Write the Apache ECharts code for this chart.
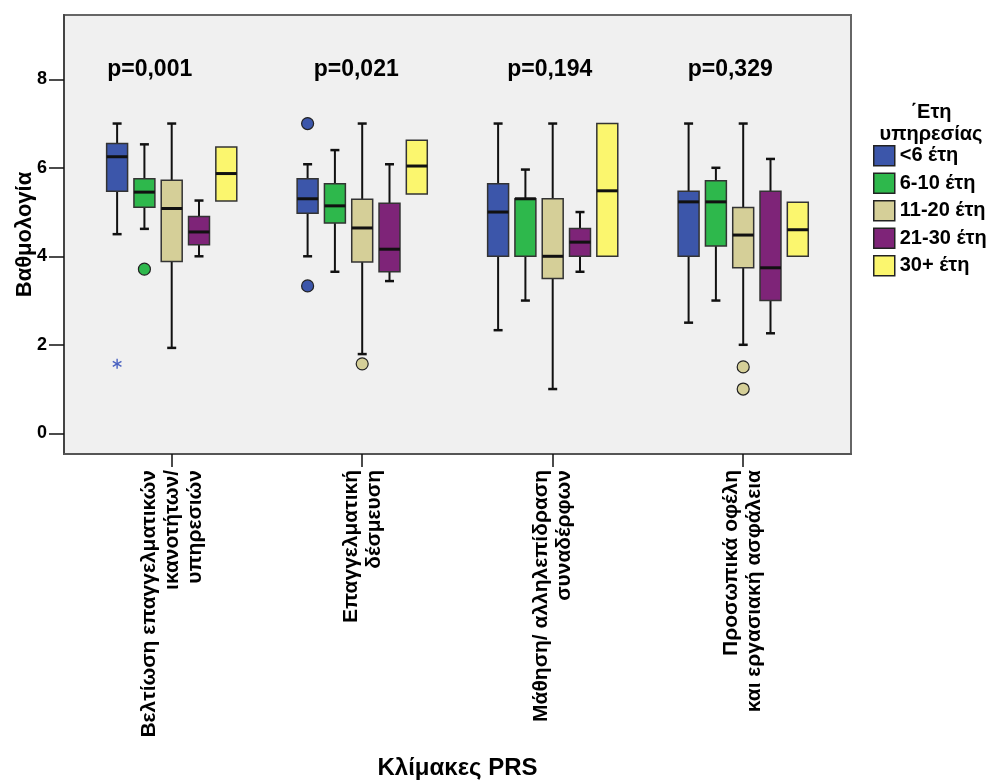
<!DOCTYPE html>
<html>
<head>
<meta charset="utf-8">
<script src="https://cdn.jsdelivr.net/npm/echarts@6/dist/echarts.min.js"></script>
<style>
html, body { margin: 0; padding: 0; background: #fff; }
#main { width: 990px; height: 780px; }
</style>
</head>
<body>
<div id="main"></div>
<script>
const categories = [
    'Βελτίωση επαγγελματικών\nικανοτήτων/\nυπηρεσιών',
    'Επαγγελματική\nδέσμευση',
    'Μάθηση/ αλληλεπίδραση\nσυναδέρφων',
    'Προσωπικά οφέλη\nκαι εργασιακή ασφάλεια'
];
const groups = ['<6 έτη', '6-10 έτη', '11-20 έτη', '21-30 έτη', '30+ έτη'];
const pValues = ['p=0,001', 'p=0,021', 'p=0,194', 'p=0,329'];
const yTicks = [0, 2, 4, 6, 8];

// [min, q1, median, q3, max] for every scale
const under6 = [[4.5, 5.47, 6.25, 6.55, 7], [4, 4.97, 5.3, 5.75, 6.08], [2.33, 4, 5, 5.64, 7], [2.5, 4, 5.23, 5.47, 7]];
const from6to10 = [[4.62, 5.11, 5.45, 5.75, 6.53], [3.65, 4.75, 5.14, 5.64, 6.4], [3, 4, 5.3, 5.3, 5.96], [3, 4.23, 5.23, 5.71, 6]];
const from11to20 = [[1.93, 3.88, 5.08, 5.72, 7], [1.79, 3.87, 4.64, 5.29, 7], [1, 3.5, 4, 5.3, 7], [2, 3.74, 4.48, 5.1, 7]];
const from21to30 = [[4, 4.26, 4.55, 4.9, 5.26], [3.44, 3.65, 4.16, 5.2, 6.08], [3.65, 4, 4.32, 4.63, 5], [2.26, 3, 3.74, 5.47, 6.2]];
const over30 = [[5.25, 5.25, 5.87, 6.47, 6.47], [5.41, 5.41, 6.04, 6.62, 6.62], [4, 4, 5.48, 7, 7], [4, 4, 4.6, 5.22, 5.22]];

// outliers: [group, scale, value]
const outlierCircles = [[1, 0, 3.71], [0, 1, 7], [0, 1, 3.33], [2, 1, 1.57], [2, 3, 1.5], [2, 3, 1]];
const outlierStars = [[0, 0, 1.57]];

const boxStats = [under6, from6to10, from11to20, from21to30, over30];
const colors = ['#3C56AA', '#2EB84C', '#D5CF98', '#7E2478', '#FBF66E'];
const FONT = '"Liberation Sans", Arial, sans-serif';
const SLOT = 0.1433;   // distance between neighbouring boxes (category units)
const BOX_W = 0.11;
const CAP = 9;
const pShift = [-22, -6, -3, -13];

function boxSeries(g) {
    return {
        name: groups[g],
        type: 'custom',
        itemStyle: { color: colors[g] },
        encode: { x: 0, y: [1, 2, 3, 4, 5] },
        data: boxStats[g].map((s, i) => [i].concat(s)),
        renderItem: function (params, api) {
            const x = api.value(0) + (g - 2) * SLOT;
            const lo = api.coord([x, api.value(1)]);
            const q1 = api.coord([x, api.value(2)]);
            const md = api.coord([x, api.value(3)]);
            const q3 = api.coord([x, api.value(4)]);
            const hi = api.coord([x, api.value(5)]);
            const cx = lo[0];
            const w = api.size([BOX_W, 0])[0];
            const line = (x1, y1, x2, y2, lw) => ({
                type: 'line',
                shape: { x1: x1, y1: y1, x2: x2, y2: y2 },
                style: { stroke: '#111', lineWidth: lw }
            });
            const kids = [];
            if (hi[1] < q3[1] - 0.5) {
                kids.push(line(cx, hi[1], cx, q3[1], 2));
                kids.push(line(cx - CAP / 2, hi[1], cx + CAP / 2, hi[1], 2.5));
            }
            if (lo[1] > q1[1] + 0.5) {
                kids.push(line(cx, q1[1], cx, lo[1], 2));
                kids.push(line(cx - CAP / 2, lo[1], cx + CAP / 2, lo[1], 2.5));
            }
            kids.push({
                type: 'rect',
                shape: { x: cx - w / 2, y: q3[1], width: w, height: q1[1] - q3[1] },
                style: { fill: colors[g], stroke: '#333', lineWidth: 1.5 }
            });
            kids.push(line(cx - w / 2, md[1], cx + w / 2, md[1], 3));
            return { type: 'group', children: kids };
        }
    };
}

const outlierSeries = {
    type: 'custom',
    encode: { x: 1, y: 2 },
    data: outlierCircles.map(o => o.concat(0)).concat(outlierStars.map(o => o.concat(1))),
    renderItem: function (params, api) {
        const g = api.value(0);
        const x = api.value(1) + (g - 2) * SLOT;
        const p = api.coord([x, api.value(2)]);
        if (api.value(3) === 0) {
            return {
                type: 'circle',
                shape: { cx: p[0], cy: p[1], r: 6 },
                style: { fill: colors[g], stroke: '#222', lineWidth: 1.2 }
            };
        }
        const r = 5;
        const kids = [90, 30, -30].map(a => {
            const dx = r * Math.cos(a * Math.PI / 180), dy = r * Math.sin(a * Math.PI / 180);
            return {
                type: 'line',
                shape: { x1: p[0] - dx, y1: p[1] - dy, x2: p[0] + dx, y2: p[1] + dy },
                style: { stroke: '#4A62C0', lineWidth: 1.4 }
            };
        });
        return { type: 'group', children: kids };
    }
};

const pSeries = {
    type: 'custom',
    encode: { x: 0, y: 1 },
    data: pValues.map((p, i) => [i, 8.22]),
    renderItem: function (params, api) {
        const p = api.coord([api.value(0), api.value(1)]);
        return {
            type: 'text',
            x: p[0] + pShift[params.dataIndex],
            y: p[1],
            style: {
                text: pValues[params.dataIndex],
                fill: '#000',
                font: 'bold 23px ' + FONT,
                align: 'center',
                verticalAlign: 'middle'
            }
        };
    }
};

const chart = echarts.init(document.getElementById('main'));

const option = {
    animation: false,
    backgroundColor: '#fff',
    textStyle: { fontFamily: FONT },
    grid: {
        left: 64, right: 139, top: 15, bottom: 326,
        outerBoundsMode: 'none',
        containLabel: false,
        show: true,
        backgroundColor: '#F0F0F0',
        borderColor: '#666',
        borderWidth: 2
    },
    legend: {
        data: groups,
        orient: 'vertical',
        left: 873,
        top: 145,
        padding: 0,
        icon: 'rect',
        itemWidth: 21,
        itemHeight: 20,
        itemGap: 6,
        selectedMode: false,
        itemStyle: { borderColor: '#222', borderWidth: 1.5 },
        textStyle: { fontSize: 20, fontWeight: 'bold', color: '#000', fontFamily: FONT }
    },
    graphic: [{
        type: 'text',
        x: 931,
        y: 101,
        style: {
            text: '΄Ετη\nυπηρεσίας',
            font: 'bold 20px ' + FONT,
            lineHeight: 22,
            align: 'center',
            fill: '#000'
        }
    }],
    xAxis: {
        type: 'value',
        min: -0.5654,
        max: 3.5659,
        name: 'Κλίμακες PRS',
        nameLocation: 'middle',
        nameGap: 302,
        nameMoveOverlap: false,
        nameTextStyle: { fontSize: 24, fontWeight: 'bold', color: '#000' },
        axisLine: { show: true, onZero: false, lineStyle: { color: '#555', width: 2 } },
        axisTick: { show: true, length: 13, customValues: [0, 1, 2, 3], lineStyle: { color: '#111', width: 1.5 } },
        axisLabel: {
            customValues: [0, 1, 2, 3],
            formatter: v => categories[Math.round(v)],
            rotate: 90,
            margin: 16,
            fontSize: 21,
            fontWeight: 'bold',
            lineHeight: 23,
            color: '#000'
        },
        splitLine: { show: false }
    },
    yAxis: {
        type: 'value',
        min: -0.468,
        max: 9.453,
        name: 'Βαθμολογία',
        nameLocation: 'middle',
        nameGap: 28,
        nameMoveOverlap: false,
        nameTextStyle: { fontSize: 22, fontWeight: 'bold', color: '#000' },
        axisLine: { show: true, onZero: false, lineStyle: { color: '#444', width: 2 } },
        axisTick: { show: true, length: 15, customValues: yTicks, lineStyle: { color: '#111', width: 1.5 } },
        axisLabel: {
            customValues: yTicks,
            margin: 17,
            fontSize: 18,
            fontWeight: 'bold',
            color: '#000'
        },
        splitLine: { show: false }
    },
    series: groups.map((n, g) => boxSeries(g)).concat([outlierSeries, pSeries])
};

chart.setOption(option);
</script>
</body>
</html>
